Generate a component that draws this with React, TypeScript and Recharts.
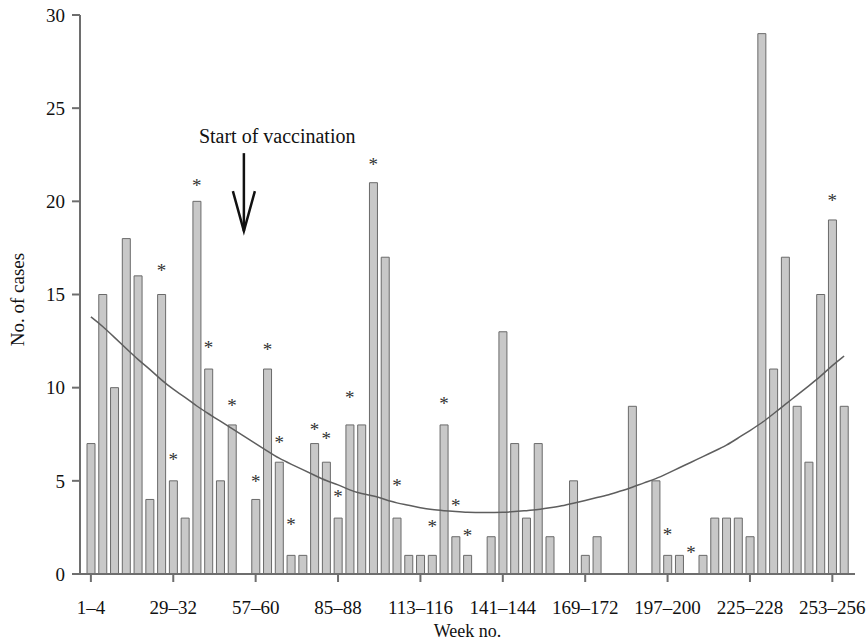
import React from 'react';
import { ComposedChart, Bar, Line, XAxis, YAxis, ReferenceDot, Label } from 'recharts';

// four-week periods, weeks 1–260
const weeks = [
  '1–4', '5–8', '9–12', '13–16', '17–20', '21–24', '25–28', '29–32', '33–36', '37–40',
  '41–44', '45–48', '49–52', '53–56', '57–60', '61–64', '65–68', '69–72', '73–76', '77–80',
  '81–84', '85–88', '89–92', '93–96', '97–100', '101–104', '105–108', '109–112', '113–116', '117–120',
  '121–124', '125–128', '129–132', '133–136', '137–140', '141–144', '145–148', '149–152', '153–156', '157–160',
  '161–164', '165–168', '169–172', '173–176', '177–180', '181–184', '185–188', '189–192', '193–196', '197–200',
  '201–204', '205–208', '209–212', '213–216', '217–220', '221–224', '225–228', '229–232', '233–236', '237–240',
  '241–244', '245–248', '249–252', '253–256', '257–260',
];

const cases = [
  7, 15, 10, 18, 16, 4, 15, 5, 3, 20,
  11, 5, 8, 0, 4, 11, 6, 1, 1, 7,
  6, 3, 8, 8, 21, 17, 3, 1, 1, 1,
  8, 2, 1, 0, 2, 13, 7, 3, 7, 2,
  0, 5, 1, 2, 0, 0, 9, 0, 5, 1,
  1, 0, 1, 3, 3, 3, 2, 29, 11, 17,
  9, 6, 15, 19, 9,
];

const trend = [
  13.8, 13.3, 12.7, 12.1, 11.5, 11.0, 10.4, 9.9, 9.5, 9.0,
  8.6, 8.2, 7.8, 7.4, 7.0, 6.6, 6.2, 5.9, 5.6, 5.3,
  5.0, 4.8, 4.5, 4.3, 4.2, 4.0, 3.8, 3.7, 3.55, 3.45,
  3.4, 3.35, 3.3, 3.3, 3.3, 3.3, 3.35, 3.4, 3.45, 3.55,
  3.65, 3.8, 3.95, 4.1, 4.25, 4.45, 4.65, 4.9, 5.1, 5.4,
  5.7, 6.0, 6.3, 6.6, 6.9, 7.3, 7.7, 8.1, 8.6, 9.1,
  9.6, 10.1, 10.6, 11.2, 11.7,
];

// asterisk marks: period and the height they sit at
const starWeeks = [
  '25–28', '29–32', '37–40', '41–44', '49–52', '57–60', '61–64', '65–68', '69–72', '77–80',
  '81–84', '85–88', '89–92', '97–100', '105–108', '117–120', '121–124', '125–128', '129–132', '197–200',
  '205–208', '253–256',
];
const starLevels = [
  16.4, 6.3, 21.0, 12.3, 9.2, 5.1, 12.2, 7.2, 2.8, 7.9,
  7.4, 4.3, 9.6, 22.1, 4.9, 2.7, 9.3, 3.8, 2.2, 2.25,
  1.3, 20.2,
];

const yTicks = [0, 5, 10, 15, 20, 25, 30];

const data = weeks.map((w, i) => {
  const s = starWeeks.indexOf(w);
  return { week: w, cases: cases[i], trend: trend[i], star: s >= 0 ? starLevels[s] : null };
});

const FONT = '"Liberation Serif", "Times New Roman", serif';
const AXIS = '#6e6e6e';

const StarDot = (props: any) => {
  const { cx, cy, index, value } = props;
  if (value == null || cy == null) return <g key={`st-${index}`} />;
  return (
    <text key={`st-${index}`} x={cx} y={cy + 9} textAnchor="middle" fontSize={19} fontFamily={FONT} fill="#333">
      *
    </text>
  );
};

const VaccArrow = (props: any) => {
  const { cx, cy } = props;
  return (
    <g>
      <text x={cx - 45} y={cy - 88} fontSize={20} fontFamily={FONT} fill="#111">
        Start of vaccination
      </text>
      <line x1={cx} y1={cy - 78} x2={cx} y2={cy} stroke="#111" strokeWidth={2.5} />
      <polyline points={`${cx - 11},${cy - 40} ${cx},${cy} ${cx + 11},${cy - 40}`} fill="none" stroke="#111" strokeWidth={2.5} />
    </g>
  );
};

const App: React.FC = () => {
  return (
    <div style={{ position: 'absolute', left: 0, top: 0, background: '#fff' }}>
      <ComposedChart width={866} height={641} data={data} margin={{ top: 15, right: 11, bottom: 0, left: 0 }}>
        <XAxis
          dataKey="week"
          interval={6}
          height={67}
          padding={{ left: 5, right: 5 }}
          stroke={AXIS}
          strokeWidth={2}
          tickSize={8}
          tickMargin={19}
          tick={{ fill: '#111', fontSize: 19, fontFamily: FONT }}
        >
          <Label
            content={({ viewBox }: any) => (
              <text x={viewBox.x + viewBox.width / 2} y={viewBox.y + viewBox.height - 4} textAnchor="middle" fontSize={18} fontFamily={FONT} fill="#111">
                Week no.
              </text>
            )}
          />
        </XAxis>
        <YAxis
          width={80}
          domain={[0, 30]}
          ticks={yTicks}
          stroke={AXIS}
          strokeWidth={2}
          tickSize={8}
          tickMargin={7}
          tick={{ fill: '#111', fontSize: 19, fontFamily: FONT }}
        >
          <Label
            content={({ viewBox }: any) => {
              const x = 24;
              const y = viewBox.y + viewBox.height / 2 + 5;
              return (
                <text x={x} y={y} transform={`rotate(-90, ${x}, ${y})`} textAnchor="middle" fontSize={19} fontFamily={FONT} fill="#111">
                  No. of cases
                </text>
              );
            }}
          />
        </YAxis>
        <Bar dataKey="cases" barSize={8} fill="#c8c8c8" stroke="#6a6a6a" strokeWidth={1} isAnimationActive={false} />
        <Line dataKey="trend" type="basis" stroke="#5e5e5e" strokeWidth={1.5} dot={false} activeDot={false} isAnimationActive={false} />
        <Line dataKey="star" stroke="none" dot={StarDot} activeDot={false} legendType="none" isAnimationActive={false} />
        <ReferenceDot x="53–56" y={18.4} r={0} ifOverflow="visible" shape={VaccArrow} />
      </ComposedChart>
    </div>
  );
};

export default App;
